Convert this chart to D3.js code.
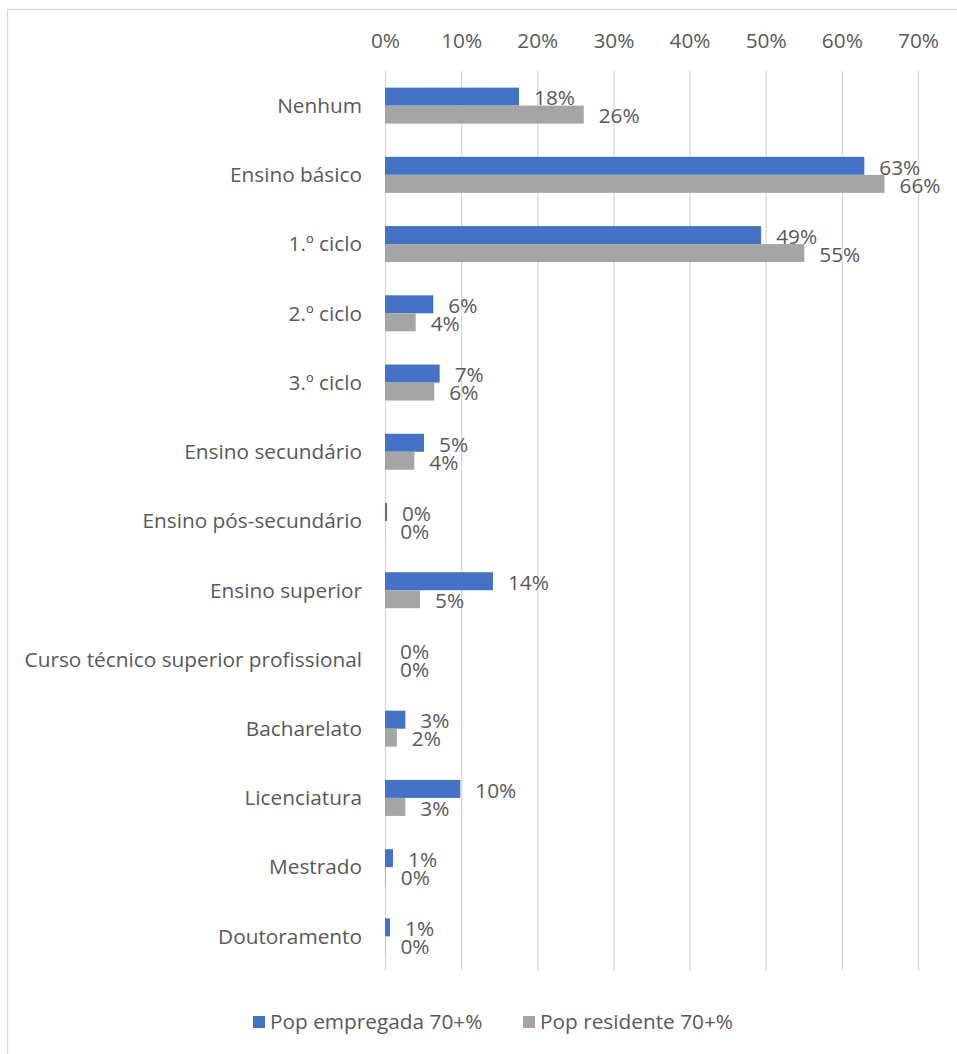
<!DOCTYPE html>
<html>
<head>
<meta charset="utf-8">
<script src="https://cdn.jsdelivr.net/npm/d3@7"></script>
<style>
  html, body { margin: 0; padding: 0; background: #fff; }
  svg { display: block; }
  text { font-family: "Open Sans", "Noto Sans", sans-serif; fill: #595959; }
</style>
</head>
<body>
<svg id="chart" width="957" height="1054"></svg>
<script>
// Education levels (top to bottom)
const categories = [
  "Nenhum",
  "Ensino básico",
  "1.º ciclo",
  "2.º ciclo",
  "3.º ciclo",
  "Ensino secundário",
  "Ensino pós-secundário",
  "Ensino superior",
  "Curso técnico superior profissional",
  "Bacharelato",
  "Licenciatura",
  "Mestrado",
  "Doutoramento"
];

// Share of each population group (fractions)
const popEmpregada = [0.176, 0.6295, 0.494, 0.0634, 0.0718, 0.0512, 0.0026, 0.1418, 0.0, 0.0267, 0.0989, 0.0105, 0.0066];
const popResidente = [0.261, 0.656, 0.5507, 0.0403, 0.0647, 0.0385, 0.0003, 0.046, 0.0, 0.0155, 0.0267, 0.001, 0.0005];

const seriesNames = ["Pop empregada 70+%", "Pop residente 70+%"];
const seriesColors = ["#4472C4", "#A5A5A5"];
const tickValues = [0, 0.1, 0.2, 0.3, 0.4, 0.5, 0.6, 0.7];

const svg = d3.select("#chart");
const fmt = d3.format(".0%");
const fontSize = "20.8px";

// Chart frame
svg.append("rect")
  .attr("x", 7.5).attr("y", 9.5)
  .attr("width", 970).attr("height", 1070)
  .attr("fill", "none")
  .attr("stroke", "#D9D9D9")
  .attr("stroke-width", 1.3);

const plot = { left: 385, right: 918, top: 71, bottom: 971 };

const x = d3.scaleLinear().domain([0, 0.7]).range([plot.left, plot.right]);
const y = d3.scaleBand().domain(categories).range([plot.top, plot.bottom]).paddingInner(0).paddingOuter(0);
const barH = 18;
const sub = d3.scaleBand().domain(seriesNames).range([0, barH * 2]);

// Vertical gridlines
svg.append("g")
  .attr("transform", `translate(0,${plot.top})`)
  .call(d3.axisBottom(x).tickValues(tickValues).tickSize(plot.bottom - plot.top).tickFormat(""))
  .call(g => g.select(".domain").remove())
  .call(g => g.selectAll("line").attr("stroke", "#D9D9D9").attr("stroke-width", 1.3));

// Top axis labels
svg.append("g")
  .attr("transform", `translate(0,41)`)
  .call(d3.axisTop(x).tickValues(tickValues).tickSize(0).tickPadding(0).tickFormat(fmt))
  .call(g => g.select(".domain").remove())
  .call(g => g.selectAll("text")
    .attr("y", 0).attr("dy", "0.35em")
    .style("font-family", "'Open Sans', sans-serif")
    .style("font-size", fontSize)
    .attr("fill", "#595959"));

// Category labels
svg.append("g")
  .selectAll("text")
  .data(categories)
  .join("text")
  .attr("x", 362)
  .attr("y", d => y(d) + y.bandwidth() / 2)
  .attr("dy", "0.35em")
  .attr("text-anchor", "end")
  .style("font-size", fontSize)
  .text(d => d);

// Bars and value labels
const rows = categories.map((c, i) => ({ cat: c, values: [popEmpregada[i], popResidente[i]] }));
const groups = svg.append("g")
  .selectAll("g")
  .data(rows)
  .join("g")
  .attr("transform", d => `translate(0,${y(d.cat) + y.bandwidth() / 2 - barH})`);

groups.selectAll("rect")
  .data(d => d.values.map((v, j) => ({ v, j })))
  .join("rect")
  .attr("x", x(0))
  .attr("y", d => sub(seriesNames[d.j]))
  .attr("width", d => x(d.v) - x(0))
  .attr("height", barH)
  .attr("fill", d => seriesColors[d.j]);

groups.selectAll("text")
  .data(d => d.values.map((v, j) => ({ v, j })))
  .join("text")
  .attr("x", d => x(d.v) + 15)
  .attr("y", d => sub(seriesNames[d.j]) + barH / 2 + 1.5)
  .attr("dy", "0.35em")
  .style("font-size", fontSize)
  .text(d => fmt(d.v));

// Legend
const legend = svg.append("g").attr("transform", "translate(0,1022)");
const legendX = [253, 523];
seriesNames.forEach((name, j) => {
  legend.append("rect")
    .attr("x", legendX[j]).attr("y", -6)
    .attr("width", 12).attr("height", 12)
    .attr("fill", seriesColors[j]);
  legend.append("text")
    .attr("x", legendX[j] + 17).attr("y", 0)
    .attr("dy", "0.35em")
    .style("font-size", fontSize)
    .text(name);
});
</script>
</body>
</html>
